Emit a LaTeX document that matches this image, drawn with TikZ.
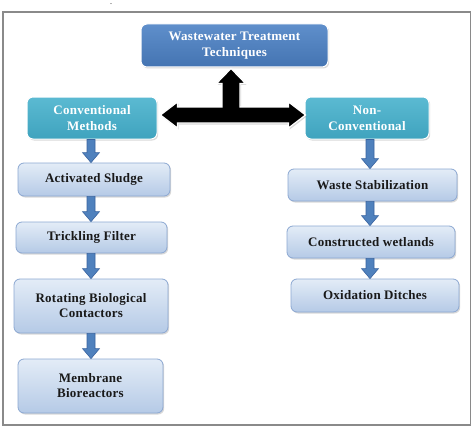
\documentclass[tikz,border=0pt]{standalone}
\usepackage{fontspec}
\setmainfont{Liberation Serif}[LetterSpace=2]
\usetikzlibrary{shadows,calc}
\definecolor{topL}{HTML}{5F8FCB}
\definecolor{topD}{HTML}{4474B2}
\definecolor{tealL}{HTML}{5BBAD2}
\definecolor{tealD}{HTML}{3FA3BE}
\definecolor{stepL}{HTML}{E3ECF7}
\definecolor{stepD}{HTML}{B5CAE6}
\definecolor{stepB}{HTML}{8CA8D2}
\definecolor{arrF}{HTML}{4F81BD}
\definecolor{arrB}{HTML}{3A64A0}
\definecolor{frameC}{HTML}{8A8A8A}
\tikzset{
  box/.style={rounded corners=6pt, align=center, inner sep=2pt,
    font=\bfseries\fontsize{13}{16}\selectfont,
    drop shadow={opacity=0.3, shadow xshift=1.2pt, shadow yshift=-1.5pt}},
  topbox/.style={box, top color=topL, bottom color=topD, draw=white, line width=1pt, text=white},
  tealbox/.style={box, top color=tealL, bottom color=tealD, draw=white, line width=1pt, text=white},
  stepbox/.style={box, top color=stepL, bottom color=stepD, draw=stepB, line width=0.8pt, text=black!90},
  blockarr/.style={fill=arrF, draw=arrB, line width=0.6pt, line join=miter},
  blackarr/.style={fill=black, draw=white, line width=1.2pt, line join=miter,
    drop shadow={opacity=0.3, shadow xshift=1.2pt, shadow yshift=-1.5pt}},
  frame/.style={draw=frameC, line width=1.5pt}
}
\newcommand{\blarr}[3]{%
  \path[blockarr] let \p1=(#1.south), \p2=(#2.north) in
    ({#3pt-4pt},\y1) -- ({#3pt+4pt},\y1) -- ({#3pt+4pt},{\y2+10pt}) --
    ({#3pt+8.5pt},{\y2+10pt}) -- ({#3pt},\y2) -- ({#3pt-8.5pt},{\y2+10pt}) --
    ({#3pt-4pt},{\y2+10pt}) -- cycle;}
\begin{document}
\begin{tikzpicture}[x=1pt,y=-1pt]
\useasboundingbox[fill=white] (0,0) rectangle (474,428);
\draw[frame] (3,12) rectangle (470.5,425);
\node[inner sep=0.5pt, font=\fontsize{8}{8}\selectfont] (dot) at (111,4.5) {.};

\node[topbox, minimum width=187pt, minimum height=43pt] (top) at (234.5,45.5) {Wastewater Treatment\\Techniques};
\node[tealbox, minimum width=130pt, minimum height=42pt] (conv) at (92,118) {Conventional\\Methods};
\node[tealbox, minimum width=124pt, minimum height=42pt] (nonconv) at (367,118) {Non-\\Conventional};

\node[stepbox, minimum width=152pt, minimum height=33pt] (as) at (94,179.5) {Activated Sludge};
\node[stepbox, minimum width=151pt, minimum height=31pt] (tf) at (91.5,237.5) {Trickling Filter};
\node[stepbox, minimum width=154pt, minimum height=54pt, font=\bfseries\fontsize{13}{15}\selectfont] (rbc) at (91,306) {Rotating Biological\\Contactors};
\node[stepbox, minimum width=145pt, minimum height=54pt, font=\bfseries\fontsize{13}{15}\selectfont] (mbr) at (90.5,386) {Membrane\\Bioreactors};

\node[stepbox, minimum width=169pt, minimum height=32pt] (ws) at (372.5,185) {Waste Stabilization};
\node[stepbox, minimum width=168pt, minimum height=32pt] (cw) at (371,242) {Constructed wetlands};
\node[stepbox, minimum width=168pt, minimum height=33pt] (od) at (375,295.5) {Oxidation Ditches};

\blarr{conv}{as}{91}
\blarr{as}{tf}{91}
\blarr{tf}{rbc}{91}
\blarr{rbc}{mbr}{91}
\blarr{nonconv}{ws}{370}
\blarr{ws}{cw}{370}
\blarr{cw}{od}{370}

\path[blackarr] let \p1=(conv.east), \p2=(nonconv.west), \p3=(top.south) in
  ({\x1+3pt},-115pt) -- ({\x1+20pt},-102pt) -- ({\x1+20pt},-107pt) --
  (222pt,-107pt) -- (222pt,{\y3-16pt}) -- (216.5pt,{\y3-16pt}) --
  (231pt,{\y3-1pt}) -- (245.5pt,{\y3-16pt}) -- (240pt,{\y3-16pt}) --
  (240pt,-107pt) -- ({\x2-16pt},-107pt) -- ({\x2-16pt},-102pt) --
  ({\x2+1pt},-115pt) -- ({\x2-16pt},-128pt) -- ({\x2-16pt},-123pt) --
  ({\x1+20pt},-123pt) -- ({\x1+20pt},-128pt) -- cycle;
\end{tikzpicture}
\end{document}
